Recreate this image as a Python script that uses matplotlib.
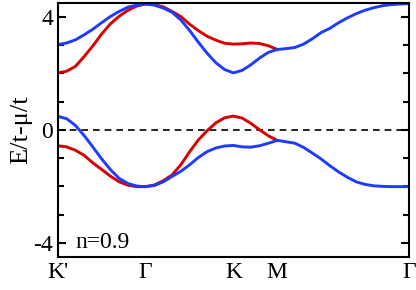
import matplotlib
matplotlib.use("Agg")
import matplotlib.pyplot as plt
from matplotlib.ticker import MultipleLocator

plt.rcParams["font.family"] = ["Liberation Serif", "DejaVu Serif"]

# path coordinate: K'=0, Gamma=1, K=2, M=2.5, Gamma=4
k_full = [0.0, 0.1, 0.2, 0.3, 0.4, 0.5, 0.6, 0.7, 0.8, 0.9, 1.0,
          1.1, 1.2, 1.3, 1.4, 1.5, 1.6, 1.7, 1.8, 1.9, 2.0,
          2.1, 2.2, 2.3, 2.4, 2.5,
          2.6, 2.7, 2.8, 2.9, 3.0, 3.1, 3.2, 3.3, 3.4, 3.5, 3.6, 3.7, 3.8, 3.9, 4.0]
k_to_m = k_full[:26]

up_blue = [3.02, 3.08, 3.19, 3.37, 3.57, 3.80, 4.02, 4.20, 4.35, 4.42, 4.46,
           4.42, 4.32, 4.17, 3.90, 3.53, 3.11, 2.72, 2.38, 2.14, 2.02,
           2.11, 2.31, 2.55, 2.75, 2.85,
           2.88, 2.92, 3.04, 3.23, 3.45, 3.60, 3.80, 3.97, 4.12, 4.24, 4.33, 4.40, 4.44, 4.46, 4.47]
up_red = [2.02, 2.08, 2.25, 2.60, 2.98, 3.40, 3.76, 4.03, 4.24, 4.39, 4.46,
          4.44, 4.36, 4.20, 4.02, 3.75, 3.52, 3.32, 3.18, 3.07, 3.04,
          3.05, 3.08, 3.06, 2.98, 2.85]
low_blue = [0.48, 0.40, 0.16, -0.20, -0.61, -1.03, -1.41, -1.72, -1.90, -1.99, -2.01,
            -1.97, -1.84, -1.65, -1.47, -1.24, -0.98, -0.77, -0.64, -0.57, -0.55,
            -0.60, -0.61, -0.56, -0.47, -0.37,
            -0.42, -0.47, -0.62, -0.82, -1.03, -1.27, -1.49, -1.68, -1.84, -1.93, -1.98, -2.00, -2.01, -2.01, -2.01]
low_red = [-0.56, -0.60, -0.72, -0.90, -1.17, -1.40, -1.64, -1.84, -1.96, -2.01, -2.01,
           -1.95, -1.80, -1.60, -1.24, -0.78, -0.36, -0.03, 0.25, 0.43, 0.49,
           0.42, 0.23, 0.00, -0.21, -0.37]

tick_pos = [0, 1, 2, 2.5, 4]
tick_lab = ["K'", "Γ", "K", "M", "Γ"]

red = "#d80000"
blue = "#1e3cff"

fig = plt.figure(figsize=(4.16, 2.9), dpi=100)
ax = fig.add_axes([0.139, 0.114, 0.844, 0.876])

ax.axhline(0, color="black", lw=1.2, ls=(0, (4, 3)))
ax.plot(k_to_m, up_red, color=red, lw=2.1)
ax.plot(k_to_m, low_red, color=red, lw=2.1)
ax.plot(k_full, up_blue, color=blue, lw=2.1)
ax.plot(k_full, low_blue, color=blue, lw=2.1)

ax.set_xlim(0, 4)
ax.set_ylim(-4.5, 4.5)
ax.set_xticks(tick_pos)
ax.set_xticklabels(tick_lab)
ax.set_yticks([-4, 0, 4])
ax.set_yticklabels(["-4", "0", "4"])
ax.yaxis.set_minor_locator(MultipleLocator(1))
ax.tick_params(axis="x", length=0, pad=4, labelsize=17)
ax.tick_params(axis="y", which="both", direction="in", right=True, labelsize=17, width=1.5)
ax.tick_params(axis="y", which="major", length=6)
ax.tick_params(axis="y", which="minor", length=4.5)
for s in ax.spines.values():
    s.set_linewidth(1.5)

ax.set_ylabel("E/t-μ/t", fontsize=19, labelpad=1)
ax.text(0.2, -4.2, "n=0.9", fontsize=17, va="baseline")

fig.savefig("out.png", dpi=100)
